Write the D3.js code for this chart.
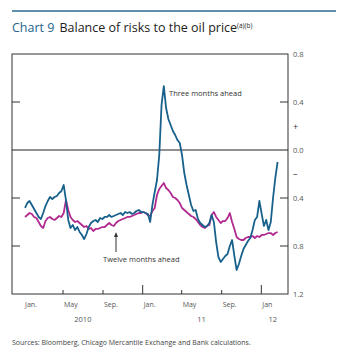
<!DOCTYPE html>
<html>
<head>
<meta charset="utf-8">
<script src="https://cdn.jsdelivr.net/npm/d3@7"></script>
<style>
  body { margin: 0; background: #fff; }
  svg { font-family: "Open Sans", "Noto Sans", sans-serif; }
</style>
</head>
<body>
<div id="chart"></div>
<script>
var svgWidth = 345;
var svgHeight = 358;

// weekly observations starting from the first week of 2010
var startDate = "2010-01-04";

// three months ahead (balance of risks)
var threeMonths = [
  -0.483,-0.442,-0.425,-0.458,-0.492,-0.525,-0.558,-0.575,-0.525,-0.467,
  -0.425,-0.392,-0.408,-0.392,-0.383,-0.358,-0.342,-0.292,-0.417,-0.583,
  -0.65,-0.625,-0.667,-0.642,-0.683,-0.708,-0.742,-0.70,-0.642,-0.608,
  -0.592,-0.583,-0.60,-0.567,-0.575,-0.558,-0.558,-0.542,-0.558,-0.55,
  -0.542,-0.533,-0.525,-0.542,-0.517,-0.525,-0.517,-0.533,-0.525,-0.508,
  -0.50,-0.517,-0.517,-0.525,-0.533,-0.60,-0.458,-0.35,-0.25,-0.042,
  0.375,0.533,0.35,0.258,0.208,0.158,0.125,0.083,0.058,-0.042,
  -0.192,-0.292,-0.375,-0.458,-0.508,-0.50,-0.575,-0.608,-0.625,-0.642,
  -0.633,-0.608,-0.542,-0.60,-0.767,-0.892,-0.933,-0.908,-0.883,-0.867,
  -0.80,-0.75,-0.883,-1.0,-0.95,-0.883,-0.825,-0.792,-0.758,-0.733,
  -0.667,-0.583,-0.558,-0.425,-0.533,-0.633,-0.583,-0.667,-0.60,-0.40,
  -0.233,-0.10
];

// twelve months ahead
var twelveMonths = [
  -0.558,-0.542,-0.525,-0.533,-0.558,-0.567,-0.60,-0.633,-0.65,-0.592,
  -0.567,-0.558,-0.575,-0.583,-0.567,-0.55,-0.558,-0.525,-0.417,-0.50,
  -0.558,-0.583,-0.60,-0.592,-0.608,-0.625,-0.642,-0.633,-0.658,-0.65,
  -0.675,-0.658,-0.658,-0.65,-0.642,-0.642,-0.625,-0.608,-0.625,-0.633,
  -0.608,-0.592,-0.583,-0.575,-0.567,-0.558,-0.558,-0.55,-0.542,-0.533,
  -0.525,-0.525,-0.517,-0.525,-0.542,-0.55,-0.508,-0.483,-0.375,-0.325,
  -0.30,-0.275,-0.317,-0.333,-0.358,-0.392,-0.40,-0.417,-0.442,-0.483,
  -0.50,-0.517,-0.533,-0.55,-0.558,-0.575,-0.60,-0.625,-0.642,-0.65,
  -0.633,-0.625,-0.542,-0.517,-0.558,-0.583,-0.608,-0.592,-0.592,-0.567,
  -0.525,-0.60,-0.658,-0.725,-0.742,-0.75,-0.75,-0.733,-0.725,-0.725,
  -0.717,-0.733,-0.717,-0.725,-0.708,-0.708,-0.70,-0.692,-0.692,-0.708,
  -0.692,-0.683
];

var monthTicks = ["2010-05-01","2010-09-01","2011-01-01","2011-05-01","2011-09-01","2012-01-01"];
var monthLabels = [
  ["2010-01-01","Jan."],["2010-05-01","May"],["2010-09-01","Sep."],
  ["2011-01-01","Jan."],["2011-05-01","May"],["2011-09-01","Sep."],["2012-01-01","Jan"]
];
var yearLabels = [["2010-07-01","2010"],["2011-07-01","11"],["2012-02-05","12"]];
var yTicks = [0.8, 0.4, 0.0, -0.4, -0.8, -1.2];

var parse = d3.timeParse("%Y-%m-%d");
var start = parse(startDate);
var dates = d3.range(threeMonths.length).map(k => d3.timeDay.offset(start, 7 * k));

var margin = {top: 54, right: 57, bottom: 64, left: 12};
var width = svgWidth - margin.left - margin.right;
var height = svgHeight - margin.top - margin.bottom;

var svg = d3.select("#chart").append("svg")
  .attr("width", svgWidth)
  .attr("height", svgHeight);

// header rule and title
svg.append("line")
  .attr("x1", 12).attr("x2", 336)
  .attr("y1", 11).attr("y2", 11)
  .attr("stroke", "#2a6a8f").attr("stroke-width", 1.5);

var title = svg.append("text")
  .attr("x", 12).attr("y", 32)
  .style("font-size", "12.5px");
title.append("tspan").attr("fill", "#25658c").text("Chart 9");
title.append("tspan").attr("fill", "#222").attr("dx", 5).text("Balance of risks to the oil price");
title.append("tspan").attr("fill", "#222").attr("dy", -4).style("font-size", "6.5px").text("(a)(b)");

var chartGroup = svg.append("g")
  .attr("transform", `translate(${margin.left}, ${margin.top})`);

var x = d3.scaleTime()
  .domain([parse("2009-11-25"), parse("2012-03-23")])
  .range([0, width]);
var y = d3.scaleLinear().domain([-1.2, 0.8]).range([height, 0]);

// frame
chartGroup.append("rect")
  .attr("width", width).attr("height", height)
  .attr("fill", "none").attr("stroke", "#333").attr("stroke-width", 1);

// zero line
chartGroup.append("line")
  .attr("x1", 0).attr("x2", width)
  .attr("y1", y(0)).attr("y2", y(0))
  .attr("stroke", "#222").attr("stroke-width", 1);

// inner y ticks both sides
var inner = yTicks.filter(d => d > -1.2 && d < 0.8 && d !== 0);
chartGroup.selectAll(".ltick").data(inner).enter().append("line")
  .attr("x1", 0).attr("x2", 8)
  .attr("y1", d => y(d)).attr("y2", d => y(d))
  .attr("stroke", "#333");
chartGroup.selectAll(".rtick").data(inner).enter().append("line")
  .attr("x1", width - 8).attr("x2", width)
  .attr("y1", d => y(d)).attr("y2", d => y(d))
  .attr("stroke", "#333");

// right axis labels (absolute values)
chartGroup.selectAll(".ylab").data(yTicks).enter().append("text")
  .attr("x", width + 5)
  .attr("y", d => y(d) + 3)
  .attr("fill", "#555")
  .style("font-size", "7.5px")
  .text(d => Math.abs(d).toFixed(1));

chartGroup.append("text").attr("x", width + 5).attr("y", y(0.2) + 4)
  .attr("fill", "#333").style("font-size", "9px").text("+");
chartGroup.append("text").attr("x", width + 5).attr("y", y(-0.2) + 3)
  .attr("fill", "#333").style("font-size", "9px").text("\u2013");

// x ticks from the bottom up
chartGroup.selectAll(".xtick").data(monthTicks).enter().append("line")
  .attr("x1", d => x(parse(d))).attr("x2", d => x(parse(d)))
  .attr("y1", height)
  .attr("y2", d => height - (d.slice(5, 7) === "01" ? 9 : 4))
  .attr("stroke", "#333");

chartGroup.selectAll(".mlab").data(monthLabels).enter().append("text")
  .attr("x", d => x(parse(d[0])) + 1)
  .attr("y", height + 13)
  .attr("fill", "#555")
  .style("font-size", "7px")
  .text(d => d[1]);

chartGroup.selectAll(".ylabel").data(yearLabels).enter().append("text")
  .attr("x", d => x(parse(d[0])))
  .attr("y", height + 28)
  .attr("text-anchor", "middle")
  .attr("fill", "#555")
  .style("font-size", "7.5px")
  .text(d => d[1]);

// series
var line = d3.line()
  .x((d, i) => x(dates[i]))
  .y(d => y(d));

chartGroup.append("path")
  .datum(twelveMonths)
  .attr("d", line)
  .attr("fill", "none")
  .attr("stroke", "#b02a8f")
  .attr("stroke-width", 1.8)
  .attr("stroke-linejoin", "round");

chartGroup.append("path")
  .datum(threeMonths)
  .attr("d", line)
  .attr("fill", "none")
  .attr("stroke", "#17618c")
  .attr("stroke-width", 1.8)
  .attr("stroke-linejoin", "round");

// annotations
chartGroup.append("text")
  .attr("x", 157).attr("y", 42)
  .attr("fill", "#333").style("font-size", "7.5px")
  .text("Three months ahead");

chartGroup.append("text")
  .attr("x", 91).attr("y", 208)
  .attr("fill", "#333").style("font-size", "7.5px")
  .text("Twelve months ahead");

chartGroup.append("line")
  .attr("x1", 104).attr("x2", 104)
  .attr("y1", 198).attr("y2", 181)
  .attr("stroke", "#333").attr("stroke-width", 1);
chartGroup.append("path")
  .attr("d", "M104,178 L102,183 L106,183 Z")
  .attr("fill", "#333");

// sources
svg.append("text")
  .attr("x", 12).attr("y", 345)
  .attr("fill", "#444")
  .style("font-size", "7px")
  .text("Sources:  Bloomberg, Chicago Mercantile Exchange and Bank calculations.");
</script>
</body>
</html>
